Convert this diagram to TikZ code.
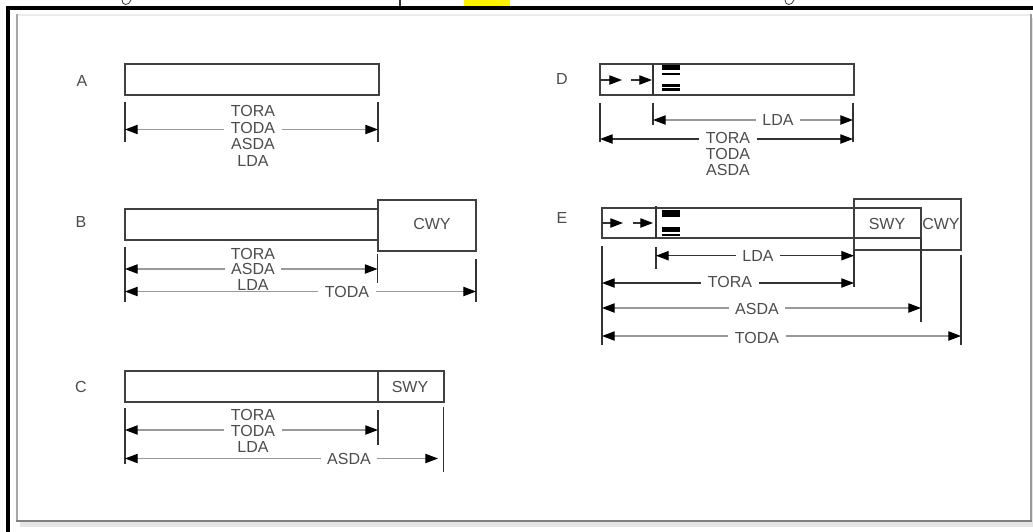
\documentclass[tikz,border=0pt]{standalone}
\usepackage{fontspec}
\setmainfont{Liberation Sans}
\usetikzlibrary{arrows.meta}
\tikzset{
  rwy/.style={draw=black!75, line width=1.2pt, fill=white, inner sep=0pt, outer sep=0pt},
  tick/.style={draw=black!80, line width=1.2pt},
  dim/.style={<->, draw=black!40, line width=.8pt},
  dimdark/.style={<->, draw=black!80, line width=.8pt},
  flow/.style={->, draw=black!80, line width=.8pt},
  lbl/.style={text=black!70, font=\fontsize{12}{12}\selectfont, inner sep=0pt},
  gap/.style={lbl, fill=white, inner xsep=5pt},
  bar/.style={fill=black, draw=none, inner sep=0pt}
}
\begin{document}
\begin{tikzpicture}[x=.75pt, y=-.75pt, >={Stealth[length=9.5pt,width=7pt,inset=0pt,black]}]
    \useasboundingbox (0,0) rectangle (1033,532);
    \clip (0,0) rectangle (1033,532);

    % Page remains and frame
    \fill[yellow] (464,0) rectangle (510,6);
    \draw[black!80, line width=.8pt] (400,0) -- (400,6);
    \draw[black!80, line width=.6pt] (122,0) .. controls (122,6) and (129,6) .. (131,0);
    \draw[black!80, line width=.6pt] (785,0) .. controls (785,6) and (792,6) .. (794,0);
    \fill[black!10] (20,18) rectangle (1033,527);
    \fill[white] (17,15) rectangle (1030,520);
    \draw[black!8, line width=1.5pt] (17,14.5) -- (1031,14.5);
    \draw[black!35, line width=1.5pt] (17,14) -- (17,521);
    \draw[black!40, line width=1.5pt] (1031,14) -- (1031,521);
    \draw[black!50, line width=2.2pt] (16,521) -- (1032,521);
    \draw[black, line width=3.2pt] (8,532) -- (8,8) -- (1033,8);

    % Case A
    \node[lbl] (nameA) at (82,81) {A};
    \node[rwy, minimum width=190.5pt, minimum height=23.25pt] (rwyA) at (252,79.5) {};
    \coordinate (a1t) at (125,102); \coordinate (a1b) at (125,142);
    \coordinate (a2t) at (378,102); \coordinate (a2b) at (378,142);
    \coordinate (a1m) at (125,129.5); \coordinate (a2m) at (378,129.5);
    \draw[tick] (a1t) -- (a1b);
    \draw[tick] (a2t) -- (a2b);
    \draw[dim] (a1m) -- (a2m);
    \node[lbl] (toraA) at (253,111) {TORA};
    \node[gap] (todaA) at (253,127.5) {TODA};
    \node[lbl] (asdaA) at (253,144) {ASDA};
    \node[lbl] (ldaA) at (253,160.5) {LDA};

    % Case B
    \node[lbl] (nameB) at (81,222) {B};
    \node[rwy, minimum width=190.5pt, minimum height=23.25pt] (rwyB) at (252,224.5) {};
    \node[rwy, minimum width=73.5pt, minimum height=38.25pt] (cwyB) at (427,225.5) {};
    \node[lbl] (cwytextB) at (432,224) {CWY};
    \coordinate (b1t) at (125,247); \coordinate (b1b) at (125,302);
    \coordinate (b2t) at (377.5,254); \coordinate (b2b) at (377.5,283);
    \coordinate (b3t) at (476,259); \coordinate (b3b) at (476,302);
    \coordinate (b1m) at (125,269); \coordinate (b2m) at (377.5,269);
    \coordinate (b1n) at (125,291.5); \coordinate (b3n) at (476,291.5);
    \draw[tick] (b1t) -- (b1b);
    \draw[tick] (b2t) -- (b2b);
    \draw[tick] (b3t) -- (b3b);
    \draw[dim] (b1m) -- (b2m);
    \draw[dim] (b1n) -- (b3n);
    \node[lbl] (toraB) at (253,254) {TORA};
    \node[gap] (asdaB) at (253,268.5) {ASDA};
    \node[lbl] (ldaB) at (253,285) {LDA};
    \node[gap] (todaB) at (347,292) {TODA};

    % Case C
    \node[lbl] (nameC) at (81,386.5) {C};
    \node[rwy, minimum width=190.5pt, minimum height=23.25pt] (rwyC) at (252,386.5) {};
    \node[rwy, minimum width=49.5pt, minimum height=23.25pt] (swyC) at (411,386.5) {};
    \node[lbl] (swytextC) at (410,387) {SWY};
    \coordinate (c1t) at (125,408); \coordinate (c1b) at (125,464);
    \coordinate (c2t) at (378,410); \coordinate (c2b) at (378,445);
    \coordinate (c3t) at (443.5,407); \coordinate (c3b) at (443.5,472);
    \coordinate (c1m) at (125,430); \coordinate (c2m) at (378,430);
    \coordinate (c1n) at (125,458.5); \coordinate (c3n) at (438,458.5);
    \draw[tick] (c1t) -- (c1b);
    \draw[tick] (c2t) -- (c2b);
    \draw[tick] (c3t) -- (c3b);
    \draw[dim] (c1m) -- (c2m);
    \draw[dim] (c1n) -- (c3n);
    \node[lbl] (toraC) at (253,414.5) {TORA};
    \node[gap] (todaC) at (253,431) {TODA};
    \node[lbl] (ldaC) at (253,447) {LDA};
    \node[gap] (asdaC) at (349,459) {ASDA};

    % Case D
    \node[lbl] (nameD) at (562,79) {D};
    \node[rwy, minimum width=190.5pt, minimum height=23.25pt] (rwyD) at (727,79.5) {};
    \coordinate (dtop) at (653,64); \coordinate (dbot) at (653,95);
    \draw[tick] (dtop) -- (dbot);
    \coordinate (df1) at (600,80); \coordinate (df2) at (622,80);
    \coordinate (df3) at (631,80); \coordinate (df4) at (652,80);
    \draw[flow] (df1) -- (df2);
    \draw[flow] (df3) -- (df4);
    \node[bar, minimum width=14pt, minimum height=4pt] (barD1) at (671,67.5) {};
    \node[bar, minimum width=14pt, minimum height=1.5pt] (barD2) at (671,74) {};
    \node[bar, minimum width=14pt, minimum height=2pt] (barD3) at (671,85.2) {};
    \node[bar, minimum width=14pt, minimum height=2pt] (barD4) at (671,89.3) {};
    \coordinate (d1t) at (600,103); \coordinate (d1b) at (600,142);
    \coordinate (d2t) at (653,103); \coordinate (d2b) at (653,125);
    \coordinate (d3t) at (853,103); \coordinate (d3b) at (853,142);
    \coordinate (d2m) at (653,120); \coordinate (d3m) at (853,120);
    \coordinate (d1n) at (600,139); \coordinate (d3n) at (853,139);
    \draw[tick] (d1t) -- (d1b);
    \draw[tick] (d2t) -- (d2b);
    \draw[tick] (d3t) -- (d3b);
    \draw[dim] (d2m) -- (d3m);
    \draw[dimdark] (d1n) -- (d3n);
    \node[gap] (ldaD) at (778,119.5) {LDA};
    \node[gap] (toraD) at (728,138) {TORA};
    \node[lbl] (todaD) at (728,154) {TODA};
    \node[lbl] (asdaD) at (728,170) {ASDA};

    % Case E
    \node[lbl] (nameE) at (562,218) {E};
    \node[rwy, minimum width=239.25pt, minimum height=22.5pt] (rwyE) at (761.5,223) {};
    \node[rwy, fill=none, minimum width=80.25pt, minimum height=38.25pt] (cwyE) at (907.5,224.5) {};
    \coordinate (sw1) at (921,208); \coordinate (sw2) at (921,238);
    \draw[rwy] (sw1) -- (sw2);
    \node[lbl] (swyE) at (887,224) {SWY};
    \node[lbl] (cwytextE) at (941,224) {CWY};
    \coordinate (etop) at (656,206); \coordinate (ebot) at (656,238);
    \draw[tick] (etop) -- (ebot);
    \coordinate (ef1) at (602,223); \coordinate (ef2) at (623,223);
    \coordinate (ef3) at (633,223); \coordinate (ef4) at (653,223);
    \draw[flow] (ef1) -- (ef2);
    \draw[flow] (ef3) -- (ef4);
    \node[bar, minimum width=14pt, minimum height=5pt] (barE1) at (671,213.5) {};
    \node[bar, minimum width=14pt, minimum height=3.5pt] (barE2) at (671,229.5) {};
    \node[bar, minimum width=14pt, minimum height=1.5pt] (barE3) at (671,235) {};
    \coordinate (e1t) at (602,246); \coordinate (e1b) at (602,345);
    \coordinate (e2t) at (656,247); \coordinate (e2b) at (656,269);
    \coordinate (e3t) at (854,250); \coordinate (e3b) at (854,287);
    \coordinate (e4t) at (921,238); \coordinate (e4b) at (921,322);
    \coordinate (e5t) at (961,255); \coordinate (e5b) at (961,345);
    \coordinate (e2m) at (656,255.7); \coordinate (e3m) at (854,255.7);
    \coordinate (e1n) at (602,283); \coordinate (e3n) at (854,283);
    \coordinate (e1o) at (602,308); \coordinate (e4o) at (921,308);
    \coordinate (e1p) at (602,336); \coordinate (e5p) at (961,336);
    \draw[tick] (e1t) -- (e1b);
    \draw[tick] (e2t) -- (e2b);
    \draw[tick] (e3t) -- (e3b);
    \draw[tick] (e4t) -- (e4b);
    \draw[tick] (e5t) -- (e5b);
    \draw[dimdark] (e2m) -- (e3m);
    \draw[dimdark] (e1n) -- (e3n);
    \draw[dim] (e1o) -- (e4o);
    \draw[dim] (e1p) -- (e5p);
    \node[gap] (ldaE) at (758,256) {LDA};
    \node[gap] (toraE) at (730,282) {TORA};
    \node[gap] (asdaE) at (757,309) {ASDA};
    \node[gap] (todaE) at (757,338) {TODA};
\end{tikzpicture}
\end{document}
